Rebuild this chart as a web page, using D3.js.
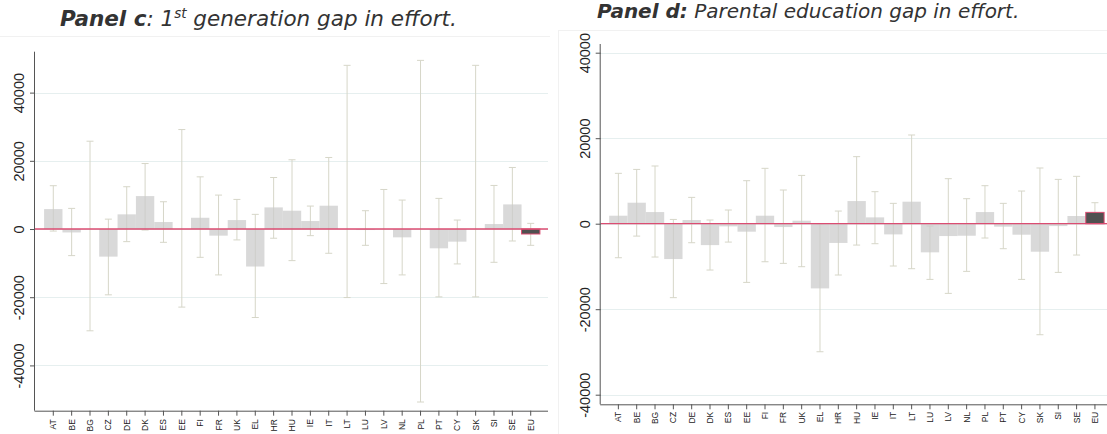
<!DOCTYPE html>
<html>
<head>
<meta charset="utf-8">
<script src="https://cdn.jsdelivr.net/npm/d3@7/dist/d3.min.js"></script>
<style>
  html, body { margin: 0; padding: 0; background: #fff; }
  svg { display: block; }
</style>
</head>
<body>
<svg id="chart" width="1107" height="434"></svg>
<script>
// Country codes along the x axis (EU aggregate last)
const countries = ["AT","BE","BG","CZ","DE","DK","ES","EE","FI","FR","UK","EL","HR","HU","IE","IT","LT","LU","LV","NL","PL","PT","CY","SK","SI","SE","EU"];

// Panel c: 1st generation gap in effort (point estimate and 95% CI)
const firstGenGap = [5850,-1000,0,-8100,4300,9660,2050,0,3300,-1950,2630,-11000,6340,5370,2340,6830,0,-300,0,-2440,0,-5660,-3700,0,1460,7220,-1460];
const firstGenHi  = [12700,6050,25750,2900,12400,19200,8000,29170,15300,9950,8680,4300,15100,20300,6730,20980,48000,5370,11600,8490,49460,8980,2630,48000,12780,18050,1660];
const firstGenLo  = [-600,-7800,-29850,-19300,-3700,-300,-3900,-22900,-8300,-13460,-3200,-25950,-2700,-9270,-1950,-7120,-20100,-4780,-16000,-13460,-50730,-19900,-10240,-19900,-9760,-3510,-4780];

// Panel d: parental education gap in effort (point estimate and 95% CI)
const parentEduGap = [1870,4910,2730,-8270,860,-5000,-620,-1870,1870,-780,700,-15130,-4500,5300,1480,-2500,5150,-6700,-2890,-2810,2730,-700,-2570,-6550,-550,1800,2650];
const parentEduHi  = [11780,12700,13500,1000,6160,860,3200,10060,12950,7880,11300,-80,2960,15680,7490,4760,20750,-550,10530,5850,8890,4760,7640,13030,10370,11080,4910];
const parentEduLo  = [-7960,-2900,-7800,-17300,-4450,-10840,-4300,-13730,-8900,-9280,-10060,-29950,-12000,-5000,-4680,-9900,-10530,-13030,-16300,-11150,-3350,-5850,-13030,-25970,-11390,-7330,400];

const yTicks = [-40000, -20000, 0, 20000, 40000];

const svg = d3.select("#chart");

const COL = {
  grid: "#e6efef",
  bar: "#cbcbcb",
  euBar: "#505050",
  ci: "#d6d6c8",
  zero: "#db4d72",
  axis: "#555",
  text: "#222",
  title: "#333",
  frame: "#f1f1f1"
};

// faint frames around each figure block
svg.append("line").attr("x1", 0).attr("x2", 550).attr("y1", 36.5).attr("y2", 36.5)
  .attr("stroke", COL.frame).attr("stroke-width", 1);
svg.append("line").attr("x1", 558).attr("x2", 1107).attr("y1", 30.5).attr("y2", 30.5)
  .attr("stroke", COL.frame).attr("stroke-width", 1);
svg.append("line").attr("x1", 558.5).attr("x2", 558.5).attr("y1", 30).attr("y2", 434)
  .attr("stroke", COL.frame).attr("stroke-width", 1);

function drawPanel(cfg) {
  const g = svg.append("g");
  const x = d3.scaleBand().domain(countries).range(cfg.bandRange).padding(0);
  const y = d3.scaleLinear().domain(cfg.yDomain).range([cfg.bottom, cfg.top]);

  const rows = countries.map((c, i) => ({ c, v: cfg.vals[i], lo: cfg.lo[i], hi: cfg.hi[i] }));

  // horizontal grid lines
  g.append("g").selectAll("line").data(yTicks).join("line")
    .attr("x1", cfg.axisX).attr("x2", cfg.right)
    .attr("y1", d => Math.round(y(d)) + 0.5).attr("y2", d => Math.round(y(d)) + 0.5)
    .attr("stroke", COL.grid).attr("stroke-width", 1.2);

  // confidence intervals (drawn beneath the translucent bars)
  const ci = g.append("g").attr("stroke", COL.ci).attr("stroke-width", 1).attr("fill", "none");
  const cap = 3.5;
  rows.forEach(d => {
    const cx = x(d.c) + x.bandwidth() / 2;
    ci.append("line").attr("x1", cx).attr("x2", cx).attr("y1", y(d.hi)).attr("y2", y(d.lo));
    ci.append("line").attr("x1", cx - cap).attr("x2", cx + cap).attr("y1", y(d.hi)).attr("y2", y(d.hi));
    ci.append("line").attr("x1", cx - cap).attr("x2", cx + cap).attr("y1", y(d.lo)).attr("y2", y(d.lo));
  });

  // bars
  g.append("g").selectAll("rect").data(rows).join("rect")
    .attr("x", d => x(d.c))
    .attr("width", x.bandwidth())
    .attr("y", d => y(Math.max(0, d.v)))
    .attr("height", d => Math.abs(y(d.v) - y(0)))
    .attr("fill", d => d.c === "EU" ? COL.euBar : COL.bar)
    .attr("fill-opacity", d => d.c === "EU" ? 1 : 0.72)
    .attr("stroke", d => (d.c === "EU" || d.v === 0) ? COL.zero : "none")
    .attr("stroke-width", d => d.v === 0 ? 2 : 1);

  // zero reference line
  g.append("line")
    .attr("x1", cfg.axisX).attr("x2", cfg.right)
    .attr("y1", y(0)).attr("y2", y(0))
    .attr("stroke", COL.zero).attr("stroke-width", 1.3);

  // y axis
  const yAxis = g.append("g")
    .attr("transform", `translate(${cfg.axisX},0)`)
    .call(d3.axisLeft(y).tickValues(yTicks).tickSize(5).tickFormat(d => String(d)));
  yAxis.select(".domain").attr("d", `M-0.5,${cfg.top}V${cfg.bottom}`).attr("stroke", COL.axis);
  yAxis.selectAll(".tick line").attr("stroke", COL.axis);
  yAxis.selectAll(".tick text")
    .attr("x", null).attr("dy", null)
    .attr("transform", "translate(-11,0) rotate(-90)")
    .attr("text-anchor", "middle")
    .attr("font-family", "Liberation Sans, Arial, sans-serif")
    .attr("font-size", 14.5)
    .attr("fill", COL.text);

  // x axis
  const xAxis = g.append("g")
    .attr("transform", `translate(0,${cfg.bottom})`)
    .call(d3.axisBottom(x).tickSize(5).tickSizeOuter(0));
  xAxis.select(".domain").attr("d", `M${cfg.axisX - 0.5},0.5H${cfg.right}`).attr("stroke", COL.axis);
  xAxis.selectAll(".tick line").attr("stroke", COL.axis);
  xAxis.selectAll(".tick text")
    .attr("y", null).attr("dy", null)
    .attr("transform", `translate(3,${cfg.labelGap}) rotate(-90)`)
    .attr("text-anchor", "end")
    .attr("font-family", "Liberation Sans, Arial, sans-serif")
    .attr("font-size", 8.5)
    .attr("fill", COL.text);
  g.selectAll(".domain").attr("fill", "none");
}

drawPanel({
  vals: firstGenGap, lo: firstGenLo, hi: firstGenHi,
  axisX: 35, right: 548, top: 51.7, bottom: 410.7,
  bandRange: [44.1, 539.9],
  yDomain: [-53280, 52000],
  labelGap: 8.5
});

drawPanel({
  vals: parentEduGap, lo: parentEduLo, hi: parentEduHi,
  axisX: 600.7, right: 1107, top: 44, bottom: 404.3,
  bandRange: [609.2, 1104.1],
  yDomain: [-42245, 42035],
  labelGap: 7.5
});

// panel titles
const titleFont = "DejaVu Sans, Verdana, sans-serif";
const t1 = svg.append("text").attr("x", 60).attr("y", 26)
  .attr("font-family", titleFont).attr("font-size", 21.5).attr("font-style", "italic").attr("fill", COL.title);
t1.append("tspan").attr("font-weight", "bold").text("Panel c");
t1.append("tspan").text(": 1");
t1.append("tspan").attr("font-size", 13.5).attr("dy", -8).text("st");
t1.append("tspan").attr("dy", 8).text(" generation gap in effort.");

const t2 = svg.append("text").attr("x", 597).attr("y", 18)
  .attr("font-family", titleFont).attr("font-size", 20).attr("font-style", "italic").attr("fill", COL.title);
t2.append("tspan").attr("font-weight", "bold").text("Panel d:");
t2.append("tspan").text(" Parental education gap in effort.");
</script>
</body>
</html>
